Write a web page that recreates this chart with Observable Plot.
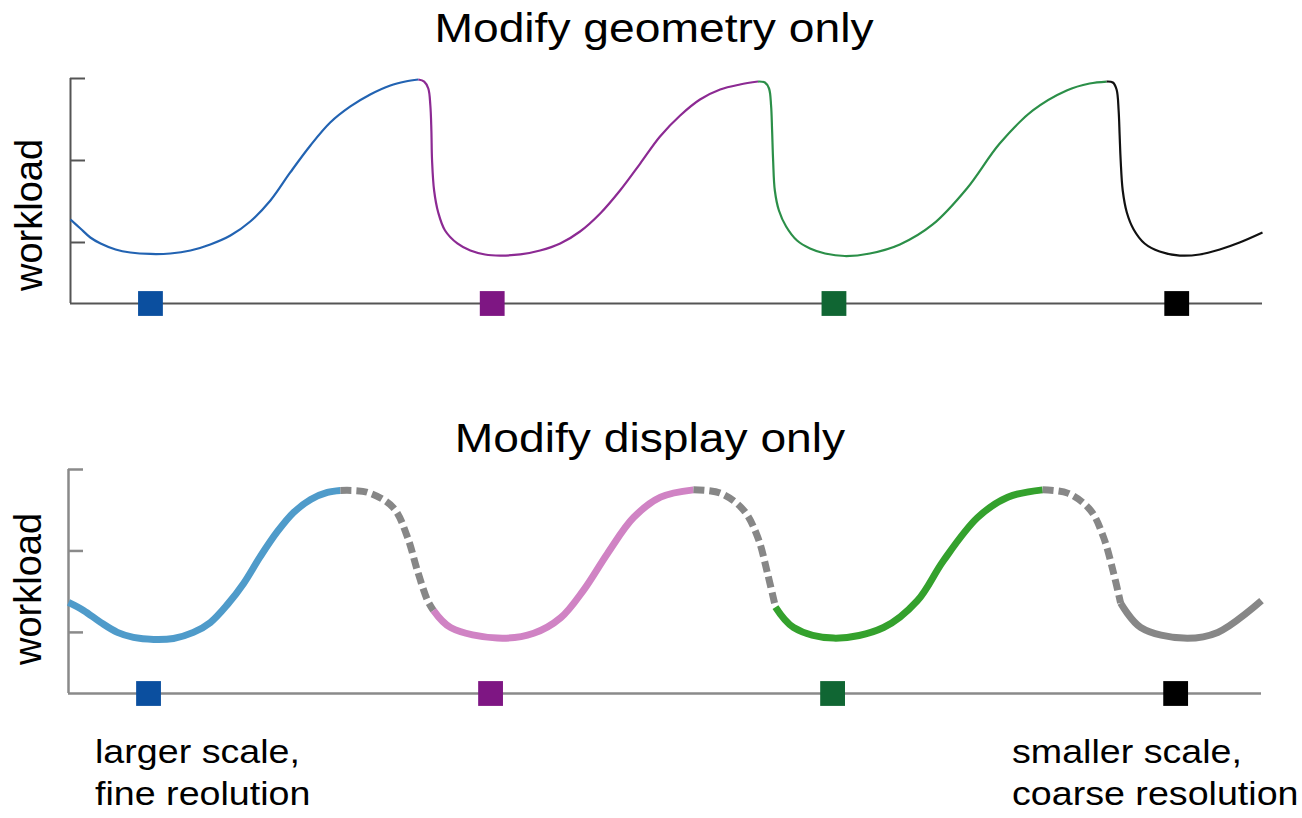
<!DOCTYPE html>
<html>
<head>
<meta charset="utf-8">
<script src="https://cdn.jsdelivr.net/npm/d3@7"></script>
<script src="https://cdn.jsdelivr.net/npm/@observablehq/plot@0.6"></script>
<style>
  body { margin: 0; background: #ffffff; }
  #page { position: relative; width: 1302px; height: 818px; overflow: hidden;
          font-family: "Liberation Sans", Arial, sans-serif; color: #000; background: #fff; }
  .plot { position: absolute; left: 0; }
  .title { position: absolute; left: 0; width: 1302px; text-align: center; font-size: 40px;
           line-height: 40px; white-space: nowrap; transform: scaleX(1.155); transform-origin: 651px 0; z-index: 2; }
  .ylab { position: absolute; font-size: 38px; line-height: 38px; white-space: nowrap; z-index: 2;
          transform: translate(-50%, -50%) rotate(-90deg); }
  .note { position: absolute; font-size: 33px; line-height: 42px; white-space: nowrap; z-index: 2;
          transform: scaleX(1.14); transform-origin: 0 0; }
</style>
</head>
<body>
<div id="page">
  <div class="title" style="top:8px;left:3px">Modify geometry only</div>
  <div id="p1" class="plot" style="top:0px"></div>
  <div class="title" style="top:418px;left:-1px">Modify display only</div>
  <div id="p2" class="plot" style="top:400px"></div>
  <div class="ylab" style="left:29px;top:215px">workload</div>
  <div class="ylab" style="left:28px;top:589px">workload</div>
  <div class="note" style="left:95px;top:731px">larger scale,<br>fine reolution</div>
  <div class="note" style="left:1012px;top:731px">smaller scale,<br>coarse resolution</div>
</div>
<script>
// ---------- data (time units, workload units) ----------
const yTicks = [1, 2, 3];
const markerT = [2.34, 12.34, 22.34, 32.37];
const markerColors = ["#0b4f9f", "#7e1683", "#106633", "#000000"];

// Modify geometry only (top)
const geomBlueT   = [0, 0.29, 0.58, 0.88, 1.32, 1.75, 2.34, 2.92, 3.51, 4.09, 4.68, 5.26, 5.85, 6.43, 7.02, 7.60, 8.19, 8.77, 9.36, 9.80, 10.18];
const geomBlueW   = [1.28, 1.171, 1.061, 0.988, 0.915, 0.878, 0.860, 0.866, 0.902, 0.976, 1.085, 1.256, 1.512, 1.854, 2.183, 2.463, 2.659, 2.805, 2.915, 2.963, 2.988];
const geomPurpleT = [10.18, 10.35, 10.47, 10.53, 10.56, 10.58, 10.64, 10.76, 10.96, 11.32, 11.70, 12.13, 12.57, 13.16, 13.74, 14.33, 14.91, 15.50, 16.08, 16.67, 17.25, 17.84, 18.42, 19.01, 19.59, 20.12];
const geomPurpleW = [2.988, 2.963, 2.878, 2.671, 2.366, 2.0, 1.634, 1.366, 1.146, 0.988, 0.902, 0.854, 0.841, 0.854, 0.902, 0.988, 1.134, 1.354, 1.634, 1.963, 2.293, 2.549, 2.744, 2.866, 2.927, 2.963];
const geomGreenT  = [20.12, 20.32, 20.44, 20.50, 20.53, 20.56, 20.61, 20.73, 20.94, 21.26, 21.64, 22.08, 22.66, 23.39, 24.27, 25.23, 26.23, 27.19, 28.16, 29.15, 29.82, 30.32];
const geomGreenW  = [2.963, 2.951, 2.878, 2.671, 2.366, 2.0, 1.634, 1.390, 1.195, 1.024, 0.927, 0.866, 0.835, 0.866, 0.976, 1.220, 1.659, 2.207, 2.610, 2.854, 2.939, 2.963];
const geomBlackT  = [30.32, 30.50, 30.61, 30.67, 30.70, 30.73, 30.79, 30.91, 31.11, 31.43, 31.87, 32.46, 33.04, 33.63, 34.21, 34.88];
const geomBlackW  = [2.963, 2.951, 2.866, 2.610, 2.305, 2.0, 1.634, 1.366, 1.159, 0.988, 0.890, 0.841, 0.854, 0.915, 1.0, 1.122];

// Modify display only (bottom)
const dispBlueT  = [0, 0.44, 0.94, 1.43, 1.90, 2.49, 3.07, 3.65, 4.15, 4.65, 5.12, 5.61, 6.11, 6.58, 7.08, 7.57, 7.95];
const dispBlueW  = [1.368, 1.27, 1.123, 1.0, 0.939, 0.914, 0.926, 1.0, 1.123, 1.344, 1.601, 1.933, 2.239, 2.472, 2.632, 2.718, 2.742];
const dash1T     = [7.95, 8.74, 9.50, 9.91, 10.20, 10.50, 10.67];
const dash1W     = [2.742, 2.72, 2.53, 2.17, 1.76, 1.39, 1.27];
const dispPinkT  = [10.67, 11.17, 12.54, 13.60, 14.39, 15.06, 15.76, 16.52, 17.31, 18.27];
const dispPinkW  = [1.27, 1.06, 0.93, 0.99, 1.18, 1.52, 1.97, 2.41, 2.66, 2.75];
const dash2T     = [18.27, 19.06, 19.74, 20.15, 20.44, 20.67];
const dash2W     = [2.75, 2.71, 2.50, 2.17, 1.72, 1.31];
const dispGreenT = [20.67, 21.20, 22.37, 23.83, 24.82, 25.58, 26.58, 27.46, 28.48];
const dispGreenW = [1.31, 1.06, 0.93, 1.06, 1.39, 1.88, 2.41, 2.66, 2.75];
const dash3T     = [28.48, 29.21, 29.88, 30.26, 30.56, 30.76];
const dash3W     = [2.75, 2.71, 2.50, 2.17, 1.72, 1.36];
const dispGrayT  = [30.76, 31.35, 32.60, 33.60, 34.88];
const dispGrayW  = [1.36, 1.06, 0.93, 1.00, 1.39];

const xDomain = [0, 34.88];

function panel({segments, yDomain, marginLeft, marginRight, marginTop, marginBottom, height,
                axisColor, axisWidth}) {
  const width = 1302;
  const frameW = width - marginLeft - marginRight;
  const yMin = yDomain[0];
  const marks = [
    Plot.ruleX([0], {stroke: axisColor, strokeWidth: axisWidth}),
    Plot.ruleY([yMin], {stroke: axisColor, strokeWidth: axisWidth}),
    Plot.tickY(yTicks, {y: d => d, insetRight: frameW - 15, stroke: axisColor, strokeWidth: axisWidth}),
    ...segments.map(s => Plot.line(s.t, {
      x: s.t, y: s.w, stroke: s.color, strokeWidth: s.width, curve: "catmull-rom",
      strokeDasharray: s.dash, strokeLinecap: "butt", strokeLinejoin: "round"
    })),
    ...markerT.map((t, i) => Plot.dot([t], {
      x: d => d, y: () => yMin, symbol: "square", r: 14, fill: markerColors[i]
    }))
  ];
  return Plot.plot({
    width, height, marginLeft, marginRight, marginTop, marginBottom,
    style: {background: "transparent", overflow: "visible"},
    x: {domain: xDomain, axis: null},
    y: {domain: yDomain, axis: null},
    marks
  });
}

const topPlot = panel({
  segments: [
    {t: geomBlueT, w: geomBlueW, color: "#2263b2", width: 2.2},
    {t: geomPurpleT, w: geomPurpleW, color: "#8c2a93", width: 2.2},
    {t: geomGreenT, w: geomGreenW, color: "#2b8f48", width: 2.2},
    {t: geomBlackT, w: geomBlackW, color: "#111111", width: 2.2}
  ],
  yDomain: [0.256, 3], marginLeft: 70, marginRight: 40, marginTop: 78, marginBottom: 37, height: 340,
  axisColor: "#555555", axisWidth: 2
});
document.getElementById("p1").appendChild(topPlot);

const bottomPlot = panel({
  segments: [
    {t: dispBlueT, w: dispBlueW, color: "#4f9bca", width: 7},
    {t: dash1T, w: dash1W, color: "#878787", width: 7, dash: "11,5"},
    {t: dispPinkT, w: dispPinkW, color: "#d083c4", width: 7},
    {t: dash2T, w: dash2W, color: "#878787", width: 7, dash: "11,5"},
    {t: dispGreenT, w: dispGreenW, color: "#34a12d", width: 7},
    {t: dash3T, w: dash3W, color: "#878787", width: 7, dash: "11,5"},
    {t: dispGrayT, w: dispGrayW, color: "#878787", width: 7}
  ],
  yDomain: [0.25, 3], marginLeft: 68, marginRight: 41, marginTop: 69, marginBottom: 37, height: 330,
  axisColor: "#8a8a8a", axisWidth: 2.5
});
document.getElementById("p2").appendChild(bottomPlot);
</script>
</body>
</html>
